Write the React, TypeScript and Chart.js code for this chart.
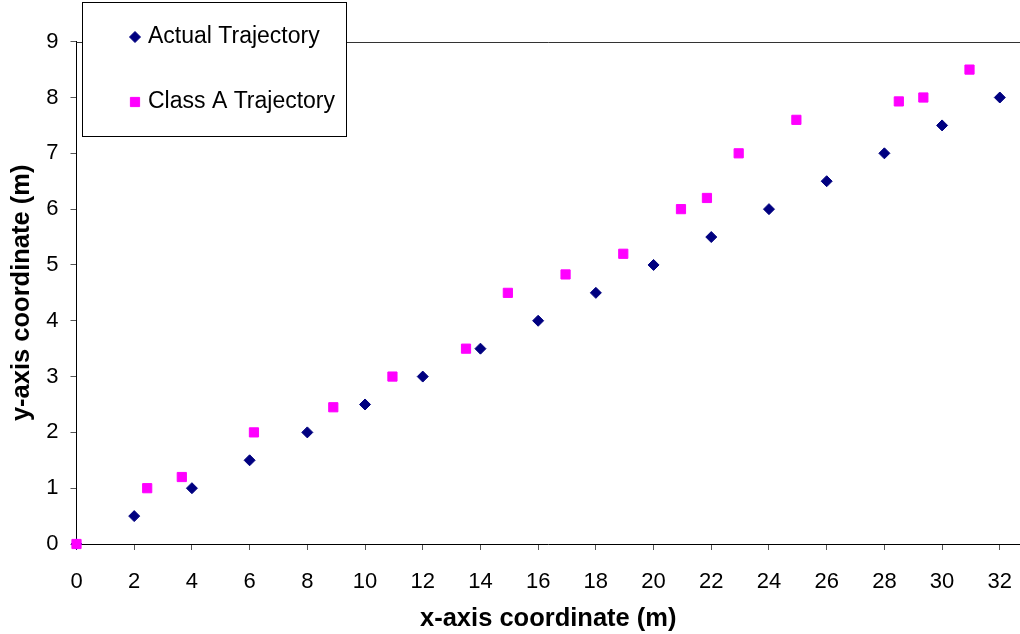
import React, { useEffect, useRef } from 'react';
import { Chart, registerables } from 'chart.js';
import { drawPoint } from 'chart.js/helpers';

Chart.register(...registerables);

const actualX = [0, 2, 4, 6, 8, 10, 12, 14, 16, 18, 20, 22, 24, 26, 28, 30, 32];
const actualY = [0, 0.5, 1, 1.5, 2, 2.5, 3, 3.5, 4, 4.5, 5, 5.5, 6, 6.5, 7, 7.5, 8];
const classAX = [0, 2.45, 3.65, 6.15, 8.9, 10.95, 13.5, 14.95, 16.95, 18.95, 20.95, 21.85, 22.95, 24.95, 28.5, 29.35, 30.95];
const classAY = [0, 1.0, 1.2, 2.0, 2.45, 3.0, 3.5, 4.5, 4.83, 5.2, 6.0, 6.2, 7.0, 7.6, 7.93, 8.0, 8.5];
const xTicks = [0, 2, 4, 6, 8, 10, 12, 14, 16, 18, 20, 22, 24, 26, 28, 30, 32];
const yTicks = [0, 1, 2, 3, 4, 5, 6, 7, 8, 9];
const seriesLabels = ['Actual Trajectory', 'Class A Trajectory'];
const xTitle = 'x-axis coordinate (m)';
const yTitle = 'y-axis coordinate (m)';

const FONT = '"Liberation Sans", Arial, sans-serif';
const NAVY = '#000080';
const MAGENTA = '#FF00FF';

const topBorderPlugin = {
  id: 'topBorder',
  beforeDatasetsDraw(chart: any) {
    const { ctx, chartArea } = chart;
    ctx.save();
    ctx.strokeStyle = '#333333';
    ctx.lineWidth = 1;
    const y = Math.round(chartArea.top) + 0.5;
    ctx.beginPath();
    ctx.moveTo(chartArea.left, y);
    ctx.lineTo(chartArea.right, y);
    ctx.stroke();
    ctx.restore();
  },
};

const legendBoxPlugin = {
  id: 'legendBox',
  afterDraw(chart: any) {
    const { ctx } = chart;
    const bx = 82.5, by = 2.5, bw = 264, bh = 134;
    ctx.save();
    ctx.fillStyle = '#ffffff';
    ctx.fillRect(bx, by, bw, bh);
    ctx.strokeStyle = '#000000';
    ctx.lineWidth = 1;
    ctx.strokeRect(bx, by, bw, bh);
    const rows = [37, 102];
    chart.data.datasets.forEach((ds: any, i: number) => {
      const y = rows[i];
      ctx.fillStyle = ds.backgroundColor;
      ctx.strokeStyle = ds.borderColor;
      ctx.lineWidth = ds.borderWidth;
      drawPoint(ctx, { pointStyle: ds.pointStyle, radius: ds.pointRadius, rotation: 0, borderWidth: ds.borderWidth }, 135, y);
      ctx.fillStyle = '#000000';
      ctx.font = `23px ${FONT}`;
      ctx.textBaseline = 'middle';
      ctx.textAlign = 'left';
      ctx.fillText(ds.label, 148, y);
    });
    ctx.restore();
  },
};

export default function App() {
  const ref = useRef<HTMLCanvasElement | null>(null);

  useEffect(() => {
    if (!ref.current) return;
    const chart = new Chart(ref.current, {
      type: 'scatter',
      data: {
        datasets: [
          {
            label: seriesLabels[0],
            data: actualX.map((x, i) => ({ x, y: actualY[i] })),
            pointStyle: 'rectRot',
            pointRadius: 5.5,
            borderWidth: 1,
            backgroundColor: NAVY,
            borderColor: NAVY,
            order: 1,
            clip: false,
          },
          {
            label: seriesLabels[1],
            data: classAX.map((x, i) => ({ x, y: classAY[i] })),
            pointStyle: 'rect',
            pointRadius: 6.5,
            borderWidth: 1,
            backgroundColor: MAGENTA,
            borderColor: MAGENTA,
            order: 0,
            clip: false,
          },
        ] as any,
      },
      options: {
        animation: false,
        responsive: false,
        layout: { autoPadding: false, padding: { top: 41.7, left: 0, right: 0, bottom: 0 } },
        plugins: {
          legend: { display: false },
          tooltip: { enabled: false },
        },
        scales: {
          x: {
            type: 'linear',
            min: 0,
            max: 32.7,
            afterBuildTicks: (scale: any) => {
              scale.ticks = xTicks.map((v) => ({ value: v }));
            },
            afterFit: (scale: any) => {
              scale.height = 90;
              scale.paddingLeft = 0;
              scale.paddingRight = 0;
            },
            ticks: {
              color: '#000000',
              font: { family: FONT, size: 22 },
              padding: 19,
              maxRotation: 0,
            },
            grid: {
              drawOnChartArea: false,
              drawTicks: true,
              tickLength: 6,
              tickColor: '#555555',
            },
            border: { display: true, color: '#000000', width: 1 },
            title: {
              display: true,
              text: xTitle,
              color: '#000000',
              font: { family: FONT, size: 25.5, weight: 'bold' },
              padding: { top: 0, bottom: 0 },
            },
          },
          y: {
            type: 'linear',
            min: 0,
            max: 9,
            afterBuildTicks: (scale: any) => {
              scale.ticks = yTicks.map((v) => ({ value: v }));
            },
            afterFit: (scale: any) => {
              scale.width = 76.5;
              scale.paddingTop = 0;
              scale.paddingBottom = 0;
            },
            ticks: {
              color: '#000000',
              font: { family: FONT, size: 22 },
              padding: 12,
            },
            grid: {
              drawOnChartArea: false,
              drawTicks: true,
              tickLength: 6,
              tickColor: '#555555',
            },
            border: { display: true, color: '#000000', width: 1 },
            title: {
              display: true,
              text: yTitle,
              color: '#000000',
              font: { family: FONT, size: 25.5, weight: 'bold' },
              padding: { top: 7, bottom: 0 },
            },
          },
        },
      } as any,
      plugins: [topBorderPlugin, legendBoxPlugin],
    });
    return () => chart.destroy();
  }, []);

  return (
    <div style={{ position: 'absolute', left: 0, top: 0, width: 1020, height: 634, background: '#ffffff' }}>
      <canvas ref={ref} width={1020} height={634} style={{ display: 'block', width: 1020, height: 634 }} />
    </div>
  );
}
